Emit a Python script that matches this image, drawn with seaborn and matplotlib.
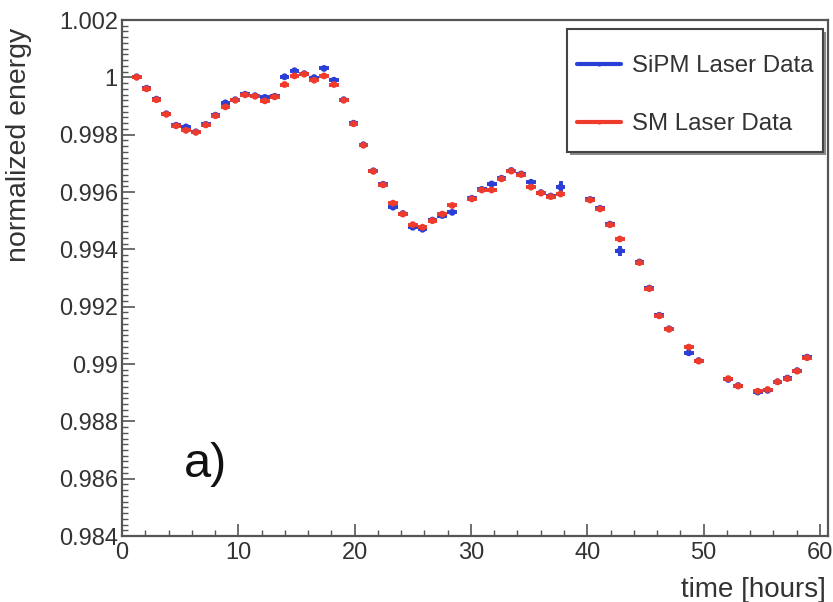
import matplotlib
matplotlib.use("Agg")
import matplotlib.pyplot as plt
from matplotlib.lines import Line2D
from matplotlib.patches import Rectangle
from matplotlib.ticker import MultipleLocator, FixedLocator
import numpy as np
import pandas as pd
import seaborn as sns

# Measurement times [hours]
time_sipm = [1.26, 2.11, 2.96, 3.81, 4.65, 5.50, 6.35, 7.20, 8.04, 8.89,
             9.74, 10.59, 11.44, 12.28, 13.13, 13.98, 14.83, 15.67, 16.52, 17.37,
             18.22, 19.06, 19.91, 20.76, 21.61, 22.45, 23.30, 24.15, 25.00, 25.84,
             26.69, 27.54, 28.39, 30.08, 30.93, 31.78, 32.63, 33.47, 34.32, 35.17,
             36.02, 36.86, 37.71, 40.25, 41.10, 41.95, 42.80, 44.49, 45.34, 46.19,
             47.03, 48.73, 49.58, 52.12, 52.97, 54.66, 55.51, 56.36, 57.21, 58.05,
             58.90]
time_sm = list(time_sipm)

# Normalized energy, SiPM-monitored laser
energy_sipm = [1.00002, 0.99962, 0.99924, 0.99873, 0.99833, 0.99827, 0.99810, 0.99836, 0.99868, 0.99911,
               0.99922, 0.99941, 0.99936, 0.99930, 0.99934, 1.00002, 1.00023, 1.00013, 0.99999, 1.00031,
               0.99990, 0.99922, 0.99840, 0.99765, 0.99674, 0.99627, 0.99547, 0.99525, 0.99477, 0.99470,
               0.99502, 0.99518, 0.99529, 0.99578, 0.99609, 0.99628, 0.99648, 0.99675, 0.99663, 0.99634,
               0.99598, 0.99586, 0.99617, 0.99574, 0.99543, 0.99488, 0.99395, 0.99356, 0.99265, 0.99170,
               0.99123, 0.99039, 0.99012, 0.98946, 0.98925, 0.98902, 0.98908, 0.98938, 0.98951, 0.98977,
               0.99024]
err_sipm = [0.00004] * len(energy_sipm)
err_sipm[42] = 0.00020
err_sipm[46] = 0.00018

# Normalized energy, SM-monitored laser
energy_sm = [1.00000, 0.99960, 0.99922, 0.99871, 0.99831, 0.99815, 0.99808, 0.99834, 0.99866, 0.99897,
             0.99920, 0.99939, 0.99934, 0.99918, 0.99932, 0.99975, 1.00005, 1.00011, 0.99990, 1.00005,
             0.99975, 0.99920, 0.99838, 0.99763, 0.99672, 0.99625, 0.99561, 0.99523, 0.99486, 0.99477,
             0.99500, 0.99523, 0.99553, 0.99576, 0.99607, 0.99607, 0.99646, 0.99673, 0.99661, 0.99617,
             0.99596, 0.99584, 0.99593, 0.99572, 0.99541, 0.99486, 0.99436, 0.99354, 0.99263, 0.99168,
             0.99121, 0.99059, 0.99010, 0.98949, 0.98923, 0.98905, 0.98911, 0.98938, 0.98949, 0.98975,
             0.99022]
err_sm = [0.00004] * len(energy_sm)

series_names = ["SiPM Laser Data", "SM Laser Data"]
x_ticks = [0, 10, 20, 30, 40, 50, 60]
y_ticks = [0.984, 0.986, 0.988, 0.99, 0.992, 0.994, 0.996, 0.998, 1, 1.002]
y_ticklabels = ["0.984", "0.986", "0.988", "0.99", "0.992", "0.994", "0.996", "0.998", "1", "1.002"]

BLUE = "#2b3fd6"
RED = "#ef3b2c"
TXT = "#333333"

sns.set_theme(style="ticks")
plt.rcParams["font.family"] = ["Liberation Sans", "DejaVu Sans"]

df = pd.concat([
    pd.DataFrame({"time": time_sipm, "energy": energy_sipm, "err": err_sipm, "series": series_names[0]}),
    pd.DataFrame({"time": time_sm, "energy": energy_sm, "err": err_sm, "series": series_names[1]}),
], ignore_index=True)
palette = {series_names[0]: BLUE, series_names[1]: RED}

W, H = 833, 602
fig = plt.figure(figsize=(W / 100, H / 100), dpi=100)
ax = fig.add_axes([122 / W, 1 - 536 / H, (828 - 122) / W, (536 - 20) / H])

# half-bin horizontal bars and statistical vertical bars
for name in series_names:
    sub = df[df["series"] == name]
    ax.errorbar(sub["time"], sub["energy"], xerr=0.42, yerr=sub["err"],
                fmt="none", ecolor=palette[name], elinewidth=2.8, capsize=0, zorder=2)

sns.scatterplot(data=df, x="time", y="energy", hue="series", palette=palette,
                marker="o", s=24, edgecolor="none", legend=False, ax=ax, zorder=3)

ax.set_xlim(0, 60.7)
ax.set_ylim(0.984, 1.002)
ax.xaxis.set_major_locator(FixedLocator(x_ticks))
ax.xaxis.set_minor_locator(MultipleLocator(2))
ax.yaxis.set_major_locator(FixedLocator(y_ticks))
ax.set_yticklabels(y_ticklabels)
ax.yaxis.set_minor_locator(MultipleLocator(0.0002))

ax.tick_params(axis="both", which="both", direction="in", colors="#555555",
               labelcolor=TXT, top=False, right=False)
ax.tick_params(axis="both", which="major", length=9, width=1.2, labelsize=17)
ax.tick_params(axis="both", which="minor", length=4.5, width=1.0)
ax.tick_params(axis="x", which="major", pad=4)
ax.tick_params(axis="y", which="major", pad=3)
for sp in ax.spines.values():
    sp.set_color("#555555")
    sp.set_linewidth(1.6)

ax.set_xlabel("time [hours]", loc="right", fontsize=20, color=TXT)
ax.set_ylabel("normalized energy", loc="top", fontsize=20.5, color=TXT)
ax.xaxis.set_label_coords(0.997, -0.08)
ax.yaxis.set_label_coords(-0.128, 0.985)

ax.text(0.088, 0.138, "a)", transform=ax.transAxes, fontsize=35, color="#111111",
        ha="left", va="center")

# legend box with a drop shadow
box_x0, box_x1, box_y0, box_y1 = 567, 823, 29, 152
fig.patches.append(Rectangle(((box_x0 + 3) / W, 1 - (box_y1 + 3) / H),
                             (box_x1 - box_x0) / W, (box_y1 - box_y0) / H,
                             transform=fig.transFigure, facecolor="#8a8a8a",
                             edgecolor="none", zorder=5))
fig.patches.append(Rectangle((box_x0 / W, 1 - box_y1 / H),
                             (box_x1 - box_x0) / W, (box_y1 - box_y0) / H,
                             transform=fig.transFigure, facecolor="white",
                             edgecolor="#444444", linewidth=1.5, zorder=6))

handles = [Line2D([0], [0], color=BLUE, lw=3, marker="o", markersize=2),
           Line2D([0], [0], color=RED, lw=3, marker="o", markersize=2)]
leg = fig.legend(handles, series_names, loc="center left",
                 bbox_to_anchor=(577 / W, 1 - 95 / H),
                 fontsize=17.3, frameon=False,
                 handlelength=1.85, handletextpad=0.45, labelspacing=1.5,
                 borderpad=0, borderaxespad=0)
leg.set_zorder(7)
for t in leg.get_texts():
    t.set_color(TXT)

fig.savefig("out.png", dpi=100)
